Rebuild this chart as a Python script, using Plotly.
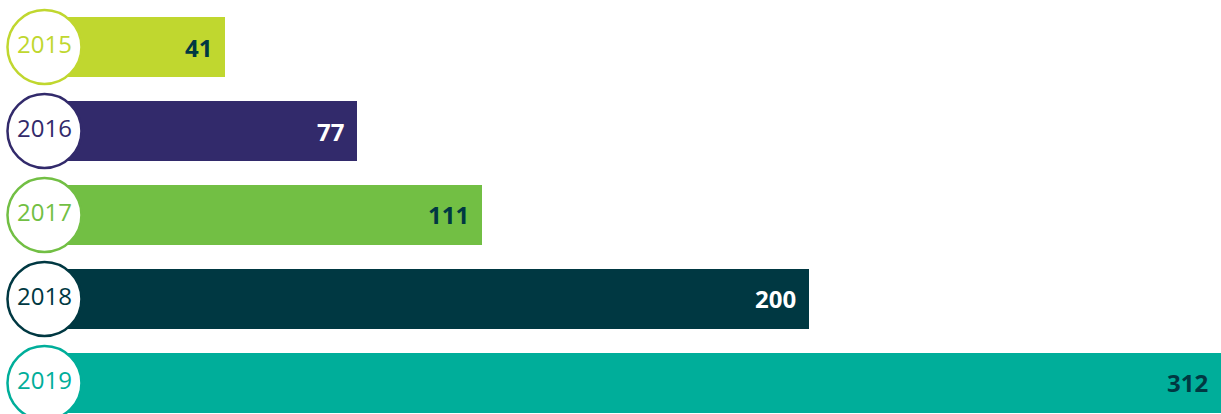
import plotly.graph_objects as go

years = ["2015", "2016", "2017", "2018", "2019"]
values = [41, 77, 111, 200, 312]
colors = ["#C0D72F", "#322A6B", "#72BF44", "#003842", "#00AE9A"]
label_colors = ["#003842", "#FFFFFF", "#003842", "#FFFFFF", "#003842"]

rows = list(range(len(years)))
circle_x = -8.1  # circle centre, in value units (left of the zero line)

fig = go.Figure()

# bars start under the circles
fig.add_trace(go.Bar(
    y=rows,
    x=[v - circle_x for v in values],
    base=circle_x,
    orientation="h",
    width=0.714,
    marker=dict(color=colors, line=dict(width=0)),
    hoverinfo="skip",
))

# year badges
fig.add_trace(go.Scatter(
    y=rows,
    x=[circle_x] * len(rows),
    mode="markers+text",
    text=years,
    textposition="middle center",
    textfont=dict(family="Open Sans", size=24, color=colors),
    marker=dict(size=74, color="white", line=dict(width=2.5, color=colors)),
    hoverinfo="skip",
    cliponaxis=False,
))

for r, v, c in zip(rows, values, label_colors):
    fig.add_annotation(
        x=v, y=r, xref="x", yref="y",
        text=f"<b>{v}</b>",
        showarrow=False,
        xanchor="right", yanchor="middle",
        xshift=-11,
        font=dict(family="Open Sans", size=24, color=c),
    )

fig.update_layout(
    width=1221, height=414,
    margin=dict(l=0, r=0, t=0, b=0),
    paper_bgcolor="white",
    plot_bgcolor="white",
    showlegend=False,
    bargap=0,
    xaxis=dict(range=[-20.2, 312], visible=False, fixedrange=True),
    yaxis=dict(range=[4.37, -0.56], visible=False, fixedrange=True),
)

fig.write_html(
    "out.html",
    config={"displayModeBar": False},
    post_script="document.body.style.margin='0';",
)
